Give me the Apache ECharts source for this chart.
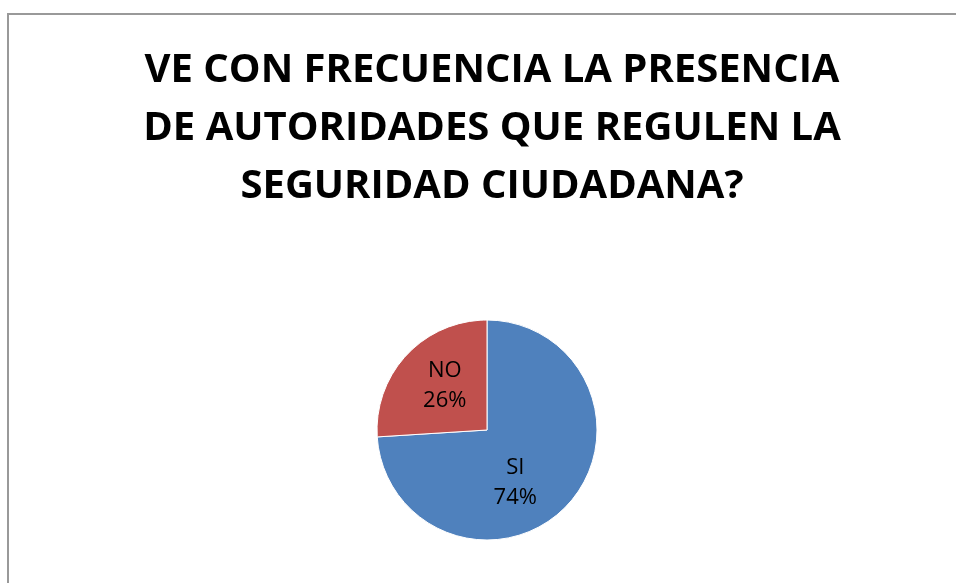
<!DOCTYPE html>
<html>
<head>
<meta charset="utf-8">
<script src="https://cdn.jsdelivr.net/npm/echarts@6/dist/echarts.min.js"></script>
<style>
    html, body { margin: 0; padding: 0; background: #fff; }
    #frame { position: absolute; left: 7px; top: 13px; width: 960px; height: 600px; border-left: 2px solid #999; border-top: 2px solid #999; }
    #main { position: absolute; left: 0; top: 0; width: 956px; height: 583px; }
</style>
</head>
<body>
<div id="frame"></div>
<div id="main"></div>
<script>
    // datos de la encuesta
    var titulo = 'VE CON FRECUENCIA LA PRESENCIA\nDE AUTORIDADES QUE REGULEN LA\nSEGURIDAD CIUDADANA?';
    var categorias = ['SI', 'NO'];
    var valores = [74, 26];
    var colores = ['#4f81bd', '#c0504d'];

    var myChart = echarts.init(document.getElementById('main'));
    var option = {
        animation: false,
        title: {
            text: titulo,
            left: 487,
            top: 37,
            textAlign: 'center',
            textStyle: {
                fontFamily: 'Open Sans',
                fontWeight: 'bold',
                fontSize: 40,
                lineHeight: 58,
                color: '#000'
            }
        },
        series: [{
            type: 'pie',
            center: [487, 430],
            radius: 110,
            startAngle: 90,
            clockwise: true,
            itemStyle: { borderColor: '#fff', borderWidth: 1 },
            label: {
                position: 'inside',
                formatter: '{b}\n{d}%',
                fontFamily: 'Open Sans',
                fontSize: 22,
                lineHeight: 30,
                color: '#000'
            },
            labelLine: { show: false },
            // ajuste fino de las etiquetas
            labelLayout: function (params) {
                return params.dataIndex === 0 ? { dx: -14, dy: 13 } : { dx: 0, dy: -5 };
            },
            data: categorias.map(function (c, i) {
                return { name: c, value: valores[i], itemStyle: { color: colores[i] } };
            })
        }]
    };
    myChart.setOption(option);
</script>
</body>
</html>
